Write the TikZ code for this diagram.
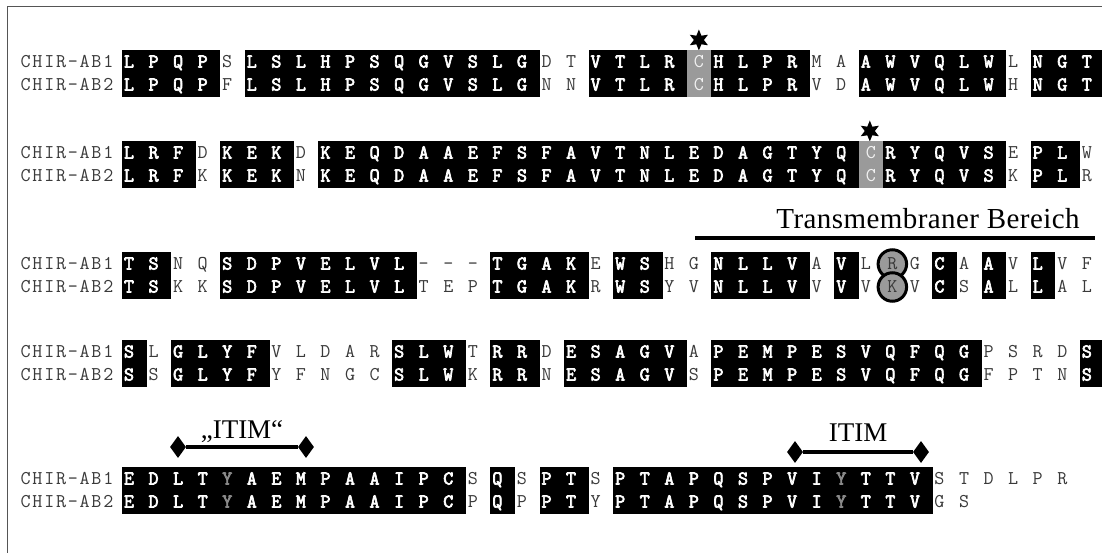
\documentclass[tikz,border=0pt]{standalone}
\usepackage{fontspec}
\setmainfont{Liberation Serif}
\newfontfamily\tmfont{Liberation Serif}[LetterSpace=1.5]
\newfontfamily\seqregfont{Latin Modern Mono}
\newfontfamily\seqboldfont{Latin Modern Mono}[FakeBold=3.5]
\usetikzlibrary{shapes.geometric}
\definecolor{seqgray}{HTML}{9A9A9A}
\definecolor{txtgray}{HTML}{3A3A3A}
\definecolor{ygray}{HTML}{8A8A8A}
\definecolor{framegray}{HTML}{555555}
\newcommand\seqr{\seqregfont\fontsize{19.5}{24}\selectfont}
\newcommand\seqbf{\seqboldfont\fontsize{19.5}{24}\selectfont}
\def\lblchars#1{\ifx#1\relax\else\makebox[11.8pt][c]{#1}\expandafter\lblchars\fi}
\newcommand\seqblock[3]{%
  \foreach \ta/\tb/\tk [count=\i from 0] in {#3}{%
    \pgfmathsetmacro\cx{129+24.56*\i}
    \path[box\tk] (\cx-7,#2-12) rectangle (\cx+17.76,#2+35);
    \node[let\tk] (#1a\i) at (\cx,#2+5.5) {\ta};
    \node[let\tk] (#1b\i) at (\cx,#2+28.5) {\tb};
  }%
  \node[lab] (#1la) at (19.6,#2+5.5) {\lblchars CHIR-AB1\relax};
  \node[lab] (#1lb) at (19.6,#2+28.5) {\lblchars CHIR-AB2\relax};
}
\begin{document}
\begin{tikzpicture}[x=1pt,y=-1pt,
  boxb/.style={fill=black}, boxn/.style={}, boxg/.style={fill=seqgray},
  boxc/.style={}, boxy/.style={fill=black},
  lettr/.style={anchor=base, inner sep=0pt},
  letb/.style={lettr, font=\seqbf, text=white},
  letn/.style={lettr, font=\seqr, text=txtgray},
  letg/.style={lettr, font=\seqr, text=white!90!gray, xshift=5pt},
  letc/.style={lettr, font=\seqr, text=txtgray, xshift=2pt},
  lety/.style={lettr, font=\seqbf, text=ygray},
  lab/.style={anchor=base west, inner sep=0pt, font=\seqr, text=txtgray},
  starmark/.style={star, star points=6, star point ratio=2.1, fill=black, minimum size=21pt, inner sep=0pt},
  ring/.style={circle, fill=seqgray, draw=black, line width=3pt, minimum size=28.5pt, inner sep=0pt},
  dia/.style={diamond, fill=black, minimum width=16pt, minimum height=22pt, inner sep=0pt},
  bar/.style={line width=3.5pt},
  serif/.style={anchor=base, inner sep=0pt, font=\fontsize{27}{32}\selectfont},
  frame/.style={draw=framegray, line width=1.5pt}]
\useasboundingbox (0,0) rectangle (1102,553);
\fill[white] (0,0) rectangle (1102,553);
\draw[frame] (7.5,553) -- (7.5,6.7) -- (1102,6.7);

% block 1
\node[starmark] (star1) at ({134+24.56*23},40) {};
\seqblock{bA}{62}{L/L/b,P/P/b,Q/Q/b,P/P/b,S/F/n,L/L/b,S/S/b,L/L/b,H/H/b,P/P/b,S/S/b,Q/Q/b,G/G/b,V/V/b,S/S/b,L/L/b,G/G/b,D/N/n,T/N/n,V/V/b,T/T/b,L/L/b,R/R/b,C/C/g,H/H/b,L/L/b,P/P/b,R/R/b,M/V/n,A/D/n,A/A/b,W/W/b,V/V/b,Q/Q/b,L/L/b,W/W/b,L/H/n,N/N/b,G/G/b,T/T/b}

% block 2
\node[starmark] (star2) at ({133+24.56*30},131) {};
\seqblock{bB}{153}{L/L/b,R/R/b,F/F/b,D/K/n,K/K/b,E/E/b,K/K/b,D/N/n,K/K/b,E/E/b,Q/Q/b,D/D/b,A/A/b,A/A/b,E/E/b,F/F/b,S/S/b,F/F/b,A/A/b,V/V/b,T/T/b,N/N/b,L/L/b,E/E/b,D/D/b,A/A/b,G/G/b,T/T/b,Y/Y/b,Q/Q/b,C/C/g,R/R/b,Y/Y/b,Q/Q/b,V/V/b,S/S/b,E/K/n,P/P/b,L/L/b,W/R/n}

% transmembrane annotation
\node[serif, font=\tmfont\fontsize{29}{34}\selectfont] (tmtext) at (928,229) {Transmembraner Bereich};
\coordinate (tmL) at (695,238);
\coordinate (tmR) at (1095,238);
\draw[bar] (tmL) -- (tmR);

% block 3
\node[ring] (ringR) at ({131+24.56*31},264) {};
\node[ring] (ringK) at ({131+24.56*31},287) {};
\seqblock{bC}{264}{T/T/b,S/S/b,N/K/n,Q/K/n,S/S/b,D/D/b,P/P/b,V/V/b,E/E/b,L/L/b,V/V/b,L/L/b,-/T/n,-/E/n,-/P/n,T/T/b,G/G/b,A/A/b,K/K/b,E/R/n,W/W/b,S/S/b,H/Y/n,G/V/n,N/N/b,L/L/b,L/L/b,V/V/b,A/V/n,V/V/b,L/V/n,R/K/c,G/V/n,C/C/b,A/S/n,A/A/b,V/L/n,L/L/b,V/A/n,F/L/n}

% block 4
\seqblock{bD}{352}{S/S/b,L/S/n,G/G/b,L/L/b,Y/Y/b,F/F/b,V/Y/n,L/F/n,D/N/n,A/G/n,R/C/n,S/S/b,L/L/b,W/W/b,T/K/n,R/R/b,R/R/b,D/N/n,E/E/b,S/S/b,A/A/b,G/G/b,V/V/b,A/S/n,P/P/b,E/E/b,M/M/b,P/P/b,E/E/b,S/S/b,V/V/b,Q/Q/b,F/F/b,Q/Q/b,G/G/b,P/F/n,S/P/n,R/T/n,D/N/n,S/S/b}

% ITIM annotations
\node[serif] (itim1) at (242,438) {„ITIM“};
\node[dia] (i1l) at (178,447) {};
\node[dia] (i1r) at (306,447) {};
\draw[bar] (i1l) -- (i1r);
\node[serif] (itim2) at (858,441) {ITIM};
\node[dia] (i2l) at (795,452) {};
\node[dia] (i2r) at (921,452) {};
\draw[bar] (i2l) -- (i2r);

% block 5
\seqblock{bE}{479}{E/E/b,D/D/b,L/L/b,T/T/b,Y/Y/y,A/A/b,E/E/b,M/M/b,P/P/b,A/A/b,A/A/b,I/I/b,P/P/b,C/C/b,S/P/n,Q/Q/b,S/P/n,P/P/b,T/T/b,S/Y/n,P/P/b,T/T/b,A/A/b,P/P/b,Q/Q/b,S/S/b,P/P/b,V/V/b,I/I/b,Y/Y/y,T/T/b,T/T/b,V/V/b,S/G/n,T/S/n,D//n,L//n,P//n,R//n}
\end{tikzpicture}
\end{document}
